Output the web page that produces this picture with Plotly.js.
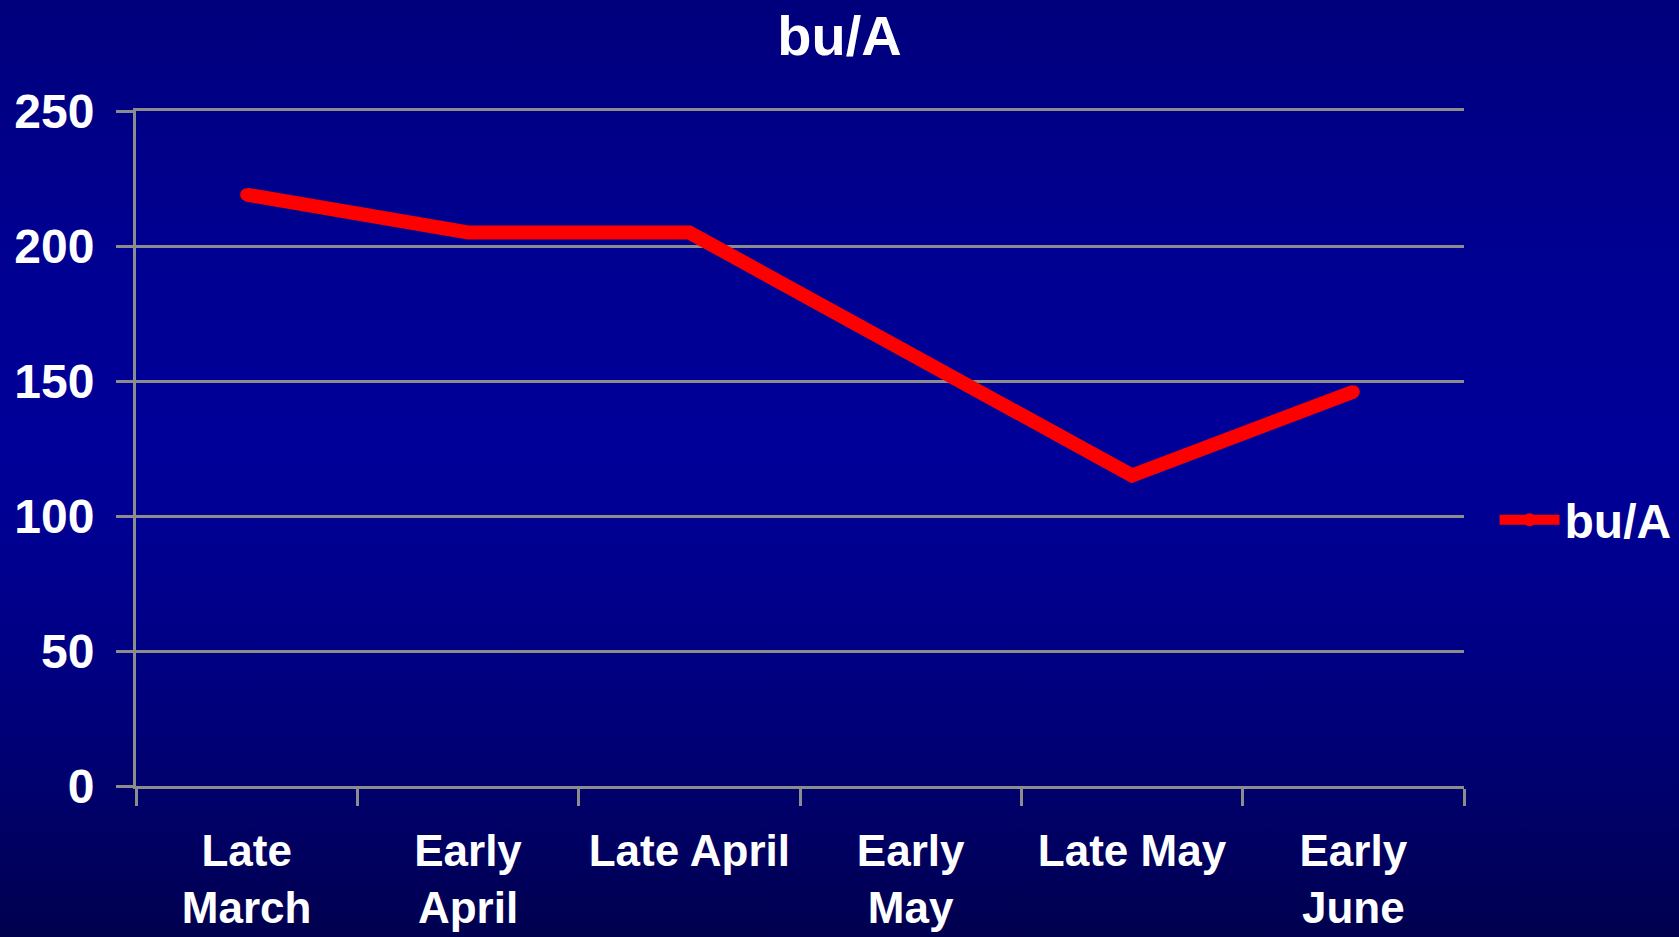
<!DOCTYPE html>
<html>
<head>
<meta charset="utf-8">
<script src="https://cdn.plot.ly/plotly-3.0.1.min.js"></script>
<style>
  html, body { margin: 0; padding: 0; width: 1679px; height: 937px; overflow: hidden;
    background: linear-gradient(to bottom, #00007c 0%, #000090 25%, #000099 48%, #00008a 65%, #000078 78%, #00004f 100%); }
  #chart { width: 1679px; height: 937px; }
</style>
</head>
<body>
<div id="chart"></div>
<script>
const categories = ["Late<br>March", "Early<br>April", "Late April", "Early<br>May", "Late May", "Early<br>June"];
const seriesName = "bu/A";
const values = [219, 205, 205, 160, 115, 146];
const yTickValues = [0, 50, 100, 150, 200, 250];

const fontFamily = "'Liberation Sans', Arial, sans-serif";
const gray = "#8c8c8c";

const trace = {
  type: "scatter",
  mode: "lines+markers",
  x: categories,
  y: values,
  name: seriesName,
  line: { color: "#ff0000", width: 14 },
  marker: { color: "#ff0000", size: 13, symbol: "circle", line: { width: 0 } },
  hoverinfo: "skip"
};

const layout = {
  width: 1679,
  height: 937,
  paper_bgcolor: "rgba(0,0,0,0)",
  plot_bgcolor: "rgba(0,0,0,0)",
  margin: { l: 136, r: 215, t: 111, b: 151, pad: 0, autoexpand: false },
  font: { family: fontFamily, color: "#ffffff", size: 46, weight: "bold" },
  title: {
    text: seriesName,
    font: { family: fontFamily, size: 56, color: "#ffffff", weight: "bold" },
    x: 0.5, xref: "container", xanchor: "center",
    y: 0.962, yref: "container", yanchor: "middle"
  },
  xaxis: {
    type: "category",
    categoryorder: "array",
    categoryarray: categories,
    range: [-0.5, 5.5],
    tickson: "boundaries",
    ticks: "outside",
    ticklen: 17,
    tickwidth: 3,
    tickcolor: gray,
    showline: true,
    mirror: true,
    linecolor: gray,
    linewidth: 3,
    showgrid: false,
    zeroline: false,
    tickangle: 0,
    tickfont: { family: fontFamily, size: 44, color: "#ffffff", weight: "bold" },
    ticklabelstandoff: 24,
    fixedrange: true
  },
  yaxis: {
    range: [0, 250],
    tickvals: yTickValues,
    ticktext: yTickValues.map(String),
    ticks: "outside",
    ticklen: 17,
    tickwidth: 3,
    tickcolor: gray,
    showline: true,
    linecolor: gray,
    linewidth: 3,
    showgrid: true,
    gridcolor: gray,
    gridwidth: 3,
    zeroline: false,
    tickfont: { family: fontFamily, size: 48, color: "#ffffff", weight: "bold" },
    ticklabelstandoff: 12,
    fixedrange: true
  },
  showlegend: true,
  legend: {
    x: 1.023, xref: "paper", xanchor: "left",
    y: 0.394, yref: "paper", yanchor: "middle",
    bgcolor: "rgba(0,0,0,0)",
    borderwidth: 0,
    font: { family: fontFamily, size: 48, color: "#ffffff", weight: "bold" },
    itemwidth: 60
  }
};

Plotly.newPlot("chart", [trace], layout, { displayModeBar: false, staticPlot: true });
</script>
</body>
</html>
